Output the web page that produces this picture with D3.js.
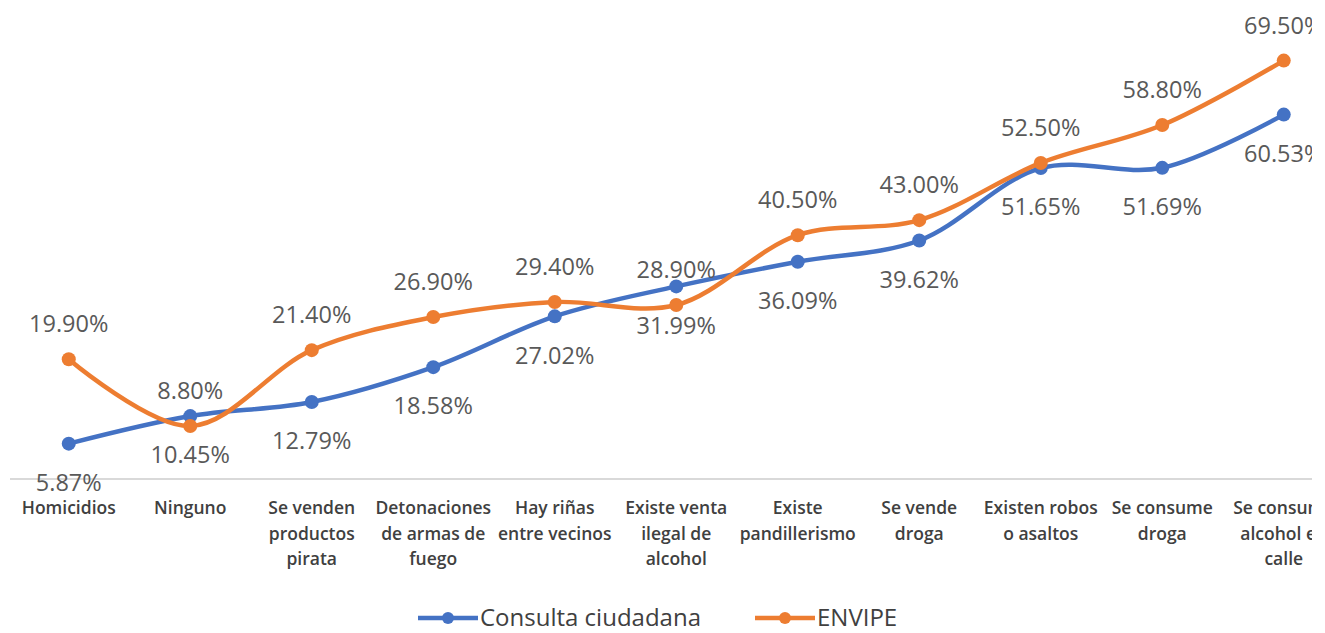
<!DOCTYPE html>
<html>
<head>
<meta charset="utf-8">
<script src="https://cdn.jsdelivr.net/npm/d3@7"></script>
<style>
  body { margin: 0; background: #fff; }
  text { font-family: "Open Sans", sans-serif; }
</style>
</head>
<body>
<div id="chart"></div>
<script>
// categories (line-broken as in the reference)
var categories = [
    ["Homicidios"],
    ["Ninguno"],
    ["Se venden", "productos", "pirata"],
    ["Detonaciones", "de armas de", "fuego"],
    ["Hay riñas", "entre vecinos"],
    ["Existe venta", "ilegal de", "alcohol"],
    ["Existe", "pandillerismo"],
    ["Se vende", "droga"],
    ["Existen robos", "o asaltos"],
    ["Se consume", "droga"],
    ["Se consume", "alcohol en", "calle"]
];
var consulta = [5.87, 10.45, 12.79, 18.58, 27.02, 31.99, 36.09, 39.62, 51.65, 51.69, 60.53];
var envipe = [19.90, 8.80, 21.40, 26.90, 29.40, 28.90, 40.50, 43.00, 52.50, 58.80, 69.50];
var seriesNames = ["Consulta ciudadana", "ENVIPE"];
var seriesColors = ["#4472C4", "#ED7D31"];

var W = 1325, H = 633;

var svg = d3.select("#chart").append("svg")
    .attr("width", W)
    .attr("height", H);

// the chart area is cut off on the right, as in the source image
svg.append("clipPath").attr("id", "clip")
    .append("rect").attr("x", 0).attr("y", 0).attr("width", 1312).attr("height", H);

var g = svg.append("g").attr("clip-path", "url(#clip)");

var idx = d3.range(categories.length);

var x = d3.scaleBand()
    .domain(idx)
    .range([8, 8 + 121.5 * categories.length]);

var y = d3.scaleLinear()
    .domain([0, 80])
    .range([479, -2.6]);

var cx = function (i) { return x(i) + x.bandwidth() / 2; };

// baseline
g.append("line")
    .attr("x1", 10).attr("x2", 1312)
    .attr("y1", y(0)).attr("y2", y(0))
    .attr("stroke", "#d9d9d9")
    .attr("stroke-width", 2);

// category labels
var cat = g.selectAll(".cat")
    .data(categories)
    .enter().append("text")
    .attr("class", "cat")
    .attr("text-anchor", "middle")
    .attr("font-size", "17.5px")
    .attr("font-weight", 600)
    .attr("fill", "#404040");

cat.selectAll("tspan")
    .data(function (d, i) { return d.map(function (t) { return {t: t, i: i}; }); })
    .enter().append("tspan")
    .attr("x", function (d) { return cx(d.i); })
    .attr("y", function (d, j) { return 514 + j * 25.5; })
    .text(function (d) { return d.t; });

var line = d3.line()
    .x(function (d, i) { return cx(i); })
    .y(function (d) { return y(d); })
    .curve(d3.curveCatmullRom.alpha(0.5));

var all = [consulta, envipe];

// draw blue first, orange on top
all.forEach(function (vals, s) {
    g.append("path")
        .datum(vals)
        .attr("d", line)
        .attr("fill", "none")
        .attr("stroke", seriesColors[s])
        .attr("stroke-width", 4.5)
        .attr("stroke-linejoin", "round");

    g.selectAll(".pt" + s)
        .data(vals)
        .enter().append("circle")
        .attr("class", "pt" + s)
        .attr("cx", function (d, i) { return cx(i); })
        .attr("cy", function (d) { return y(d); })
        .attr("r", 7)
        .attr("fill", seriesColors[s]);
});

// data labels: consulta below, envipe above
all.forEach(function (vals, s) {
    g.selectAll(".lbl" + s)
        .data(vals)
        .enter().append("text")
        .attr("class", "lbl" + s)
        .attr("x", function (d, i) { return cx(i); })
        .attr("y", function (d) { return y(d) + (s == 0 ? 39 : -35); })
        .attr("dy", "0.35em")
        .attr("text-anchor", "middle")
        .attr("font-size", "23.5px")
        .attr("fill", "#595959")
        .text(function (d) { return d.toFixed(2) + "%"; });
});

// legend
var legendX = [418, 755];
seriesNames.forEach(function (name, s) {
    var lg = svg.append("g").attr("transform", "translate(" + legendX[s] + ",618)");
    lg.append("line")
        .attr("x1", 0).attr("x2", 60)
        .attr("stroke", seriesColors[s])
        .attr("stroke-width", 4.5);
    lg.append("circle")
        .attr("cx", 30).attr("r", 6)
        .attr("fill", seriesColors[s]);
    lg.append("text")
        .attr("x", 62)
        .attr("dy", "0.35em")
        .attr("font-size", "24px")
        .attr("fill", "#404040")
        .text(name);
});
</script>
</body>
</html>
